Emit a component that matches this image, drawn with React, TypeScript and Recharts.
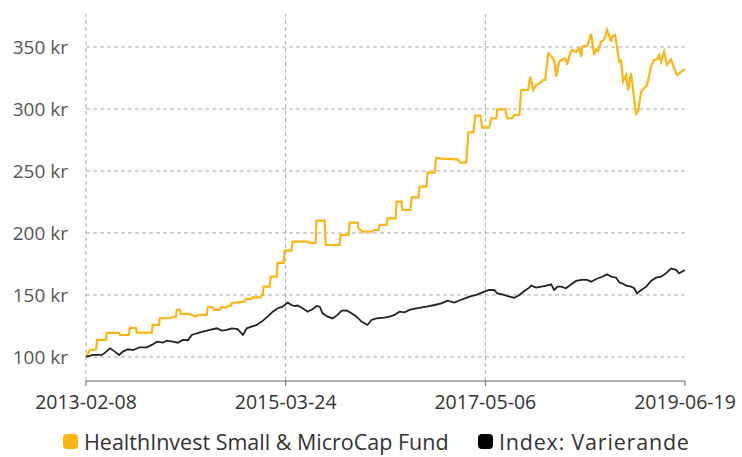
import { LineChart, Line, XAxis, YAxis, ReferenceLine } from 'recharts'

// days counted from 2013-02-08
const dayTicks = [0, 774, 1548, 2322]
const dayLabels = ['2013-02-08', '2015-03-24', '2017-05-06', '2019-06-19']
const valueTicks = [100, 150, 200, 250, 300, 350]

const fundDays = [
    0, 15, 39, 43, 77, 81, 128, 132, 166, 170, 194, 197, 255, 259, 283, 286, 325, 329, 348, 352,
    364, 368, 402, 422, 441, 468, 472, 491, 495, 519, 522, 546, 550, 561, 565, 615, 619, 642, 646, 677,
    681, 685, 689, 712, 716, 739, 743, 766, 770, 797, 801, 863, 867, 890, 894, 925, 929, 983, 987, 1018,
    1022, 1053, 1056, 1072, 1111, 1115, 1134, 1138, 1165, 1169, 1200, 1204, 1223, 1227, 1258, 1262, 1289, 1293, 1320, 1324,
    1351, 1358, 1378, 1440, 1451, 1474, 1482, 1502, 1509, 1529, 1536, 1563, 1571, 1591, 1594, 1625, 1633, 1652, 1660, 1680,
    1687, 1714, 1722, 1734, 1745, 1753, 1765, 1772, 1780, 1792, 1807, 1815, 1823, 1834, 1854, 1861, 1865, 1877, 1885, 1900,
    1912, 1920, 1923, 1943, 1958, 1970, 1978, 1985, 1997, 2009, 2020, 2036, 2039, 2051, 2067, 2074, 2082, 2094, 2101, 2113,
    2132, 2140, 2152, 2163, 2175, 2190, 2202, 2214, 2221, 2229, 2241, 2252, 2268, 2280, 2291, 2307, 2322,
]
const fundValues = [
    100, 105.6, 106, 113.7, 113.7, 119.4, 119.4, 117.7, 117.7, 123.4, 123.4, 119.6, 119.6, 125.8, 125.8, 131.2, 131.2, 132, 132, 137.9,
    137.9, 134.7, 134.7, 132.5, 133.9, 133.9, 140.3, 140.3, 137.9, 137.9, 140, 140, 141.2, 141.2, 143.5, 144.6, 146.8, 146.8, 148, 148,
    150, 150, 156.7, 156.7, 164.8, 164.8, 175.8, 175.8, 185.7, 185.7, 193, 193, 192, 192, 210, 210, 190.3, 190.3, 198.4, 198.4,
    208.3, 208.3, 203.8, 201, 201, 202.4, 202.4, 206.5, 206.5, 211.8, 211.8, 225.2, 225.2, 218.5, 218.5, 228.7, 228.7, 237.4, 237.4, 248.6,
    248.6, 260.7, 260, 259.4, 256.7, 256.7, 281.2, 281.2, 294.6, 294.6, 285, 285, 292.5, 292.5, 299.7, 299.7, 292.5, 292.5, 295.2, 295.2,
    315.3, 315.3, 326, 315.3, 319.4, 320, 322, 323.4, 323.4, 344.9, 341.5, 339.5, 326, 338.1, 340.9, 340, 335.5, 344.9, 347.6, 346,
    348.9, 342.2, 350.2, 351, 360.5, 343.5, 348.1, 347, 354.3, 356, 363.7, 354.3, 358.3, 359.7, 338.1, 339, 322, 327.4, 315.3, 328.8,
    296, 298, 314, 316.7, 319.4, 334.1, 339.5, 340, 343.5, 338, 346.2, 335.5, 340, 332.8, 327.4, 330, 332,
]

const indexDays = [
    0, 27, 62, 74, 93, 112, 128, 143, 163, 182, 209, 236, 255, 275, 298, 313, 337, 356, 375, 395,
    410, 430, 453, 480, 507, 526, 546, 565, 588, 608, 623, 642, 662, 681, 704, 724, 743, 762, 782, 797,
    809, 820, 840, 859, 878, 894, 906, 917, 937, 956, 975, 991, 1010, 1029, 1049, 1068, 1091, 1107, 1126, 1157,
    1176, 1196, 1215, 1235, 1254, 1285, 1320, 1351, 1378, 1401, 1428, 1459, 1486, 1513, 1544, 1563, 1583, 1594, 1614, 1641,
    1660, 1680, 1699, 1718, 1726, 1745, 1765, 1784, 1803, 1815, 1827, 1842, 1861, 1881, 1900, 1920, 1943, 1958, 1978, 2001,
    2020, 2036, 2055, 2067, 2078, 2094, 2113, 2125, 2136, 2152, 2172, 2190, 2210, 2229, 2248, 2268, 2287, 2299, 2322,
]
const indexValues = [
    100, 101.6, 101.6, 103.5, 107, 104.3, 101.6, 104.3, 106.2, 105.5, 107.8, 107.8, 109.7, 112.3, 111.5, 113.1, 112.3, 111.5, 113.7, 113.5,
    117.7, 119.1, 120.4, 121.8, 123.1, 121.2, 121.8, 123.1, 122.5, 117.7, 123.1, 124.5, 125.8, 128.5, 132.5, 136.5, 139.3, 140.6, 143.8, 141.9,
    141.1, 141.5, 139.3, 136.5, 138.5, 141.1, 140.5, 135.2, 132.5, 131.1, 133.9, 137.3, 137.5, 135.2, 132.5, 128.5, 125.8, 129.8, 131.1, 131.7,
    132.5, 133.9, 136.5, 136, 137.9, 139.3, 140.6, 141.9, 143.2, 145.4, 143.8, 146.5, 148.6, 150, 152.7, 154, 154, 151.3, 150.5, 148.6,
    147.8, 150, 153.2, 155.9, 157.5, 155.9, 156.7, 157.5, 158.6, 154, 156.7, 156.7, 155.4, 158.6, 161.3, 162.1, 162.1, 160.7, 162.9, 164.7,
    166.6, 164.7, 163.9, 160.2, 159.4, 157.5, 156.7, 155.4, 151.3, 154, 156.7, 161.3, 163.9, 164.7, 167.4, 171.4, 170.2, 167.4, 170.2,
]

const FUND_COLOR = '#fdb515'
const INDEX_COLOR = '#222222'
const GRID_COLOR = '#aaa'
const FONT = '"Open Sans", sans-serif'

type Row = { day: number; fund?: number; index?: number }

function buildRows(): Row[] {
    const rows = new Map<number, Row>()
    fundDays.forEach((d, i) => {
        const r = rows.get(d) ?? { day: d }
        r.fund = fundValues[i]
        rows.set(d, r)
    })
    indexDays.forEach((d, i) => {
        const r = rows.get(d) ?? { day: d }
        r.index = indexValues[i]
        rows.set(d, r)
    })
    return [...rows.values()].sort((a, b) => a.day - b.day)
}

function LegendItem({ color, label, left, spacing = 0 }: { color: string; label: string; left: number; spacing?: number }) {
    return (
        <div style={{ position: 'absolute', left, top: 0, display: 'flex', alignItems: 'center', gap: 6, whiteSpace: 'nowrap' }}>
            <span style={{ width: 15, height: 15, borderRadius: 4, background: color, display: 'inline-block' }} />
            <span style={{ letterSpacing: spacing }}>{label}</span>
        </div>
    )
}

export default function App() {
    const data = buildRows()
    return (
        <div style={{ position: 'absolute', left: 0, top: 0, width: 742, height: 457, background: '#fff', fontFamily: FONT }}>
            <LineChart width={742} height={457} data={data} margin={{ top: 14, right: 57, bottom: 46, left: 0 }}>
                <XAxis
                    dataKey="day"
                    type="number"
                    domain={[0, 2322]}
                    ticks={dayTicks}
                    tickFormatter={(d) => dayLabels[dayTicks.indexOf(d)]}
                    stroke="#666"
                    tickSize={5}
                    tickMargin={9}
                    tick={{ fill: '#333', fontSize: 19.5, fontFamily: FONT }}
                    interval={0}
                />
                <YAxis
                    type="number"
                    domain={[80.6, 376.6]}
                    ticks={valueTicks}
                    tickFormatter={(v) => `${v} kr`}
                    width={86}
                    axisLine={false}
                    tickLine={false}
                    tickSize={0}
                    tickMargin={18}
                    tick={{ fill: '#555', fontSize: 19, fontFamily: FONT }}
                />
                {valueTicks.map((v) => (
                    <ReferenceLine key={`y${v}`} y={v} stroke={GRID_COLOR} strokeDasharray="4 3" />
                ))}
                {dayTicks.slice(0, 3).map((d) => (
                    <ReferenceLine key={`x${d}`} x={d} stroke={GRID_COLOR} strokeDasharray="4 3" />
                ))}
                <Line
                    dataKey="fund"
                    type="linear"
                    stroke={FUND_COLOR}
                    strokeWidth={2.2}
                    dot={false}
                    connectNulls
                    isAnimationActive={false}
                />
                <Line
                    dataKey="index"
                    type="linear"
                    stroke={INDEX_COLOR}
                    strokeWidth={1.8}
                    dot={false}
                    connectNulls
                    isAnimationActive={false}
                />
            </LineChart>
            <div style={{ position: 'absolute', top: 427, left: 0, width: 742, height: 30, fontSize: 21.5, color: '#333' }}>
                <LegendItem left={63} color={FUND_COLOR} label="HealthInvest Small & MicroCap Fund" />
                <LegendItem left={478} color="#000" label="Index: Varierande" spacing={0.8} />
            </div>
        </div>
    )
}
